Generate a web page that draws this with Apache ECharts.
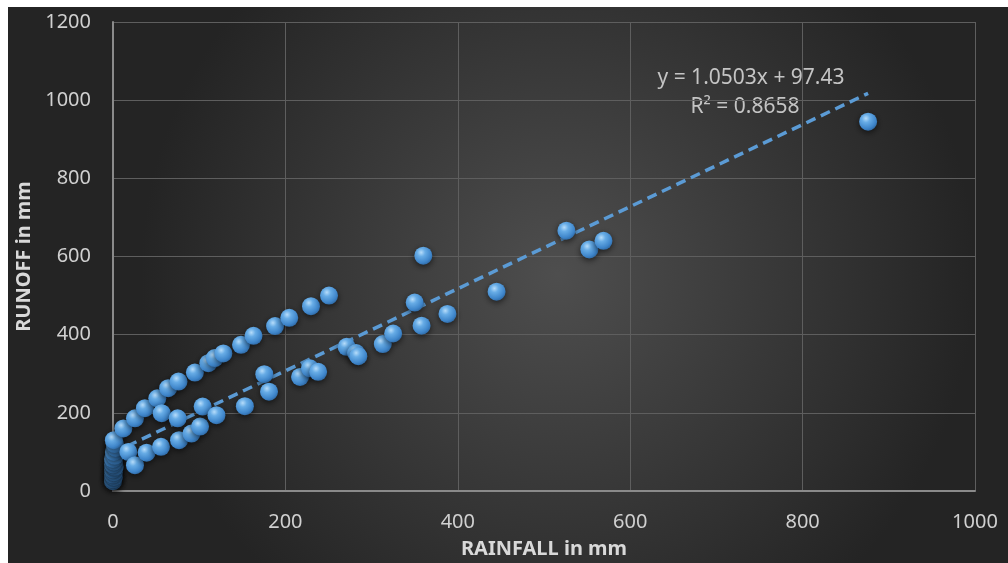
<!DOCTYPE html>
<html><head><meta charset="utf-8">
<script src="https://cdn.jsdelivr.net/npm/echarts@6/dist/echarts.min.js"></script>
<style>
html,body{margin:0;padding:0;background:#fff;width:1008px;height:563px;overflow:hidden}
#c{position:absolute;left:8px;top:7px;width:1000px;height:556px}
</style></head>
<body><div id="c"></div>
<script>
// Rainfall (x, mm) and runoff (y, mm)
const rainfall = [0,0,1,0,1,0,2,0,1,0,2,1,3,2,1,
  12,25.5,37,51.4,56.5,64,76,95,110.6,118,128,148.5,163,188,204.5,229.7,250.6,
  17.8,25.5,39,55.7,76.6,75,91,101,104,120,153,175.5,181,217,228.5,238,271,282,284.6,313,325,350,358,360,388,445,526,552.6,569,876];
const runoff = [25,30,36,42,48,55,62,68,75,82,90,100,110,120,130,
  160,186,212,237,199,263,280,303,327,340,352,374,397,422,443,473,500,
  100,66,98,113,130,186,147,165,216,194,217,299,254,292,314,305,369,353,345,376,403,482,423,602,453,510,666,618,640,945];
const slope = 1.0503, intercept = 97.43, rSquared = 0.8658;

const pts = rainfall.map((x,i)=>[x,runoff[i]]);
const xmin = Math.min(...rainfall), xmax = Math.max(...rainfall);
const trend = [[xmin, slope*xmin+intercept],[xmax, slope*xmax+intercept]];

const chart = echarts.init(document.getElementById('c'));
const labelFont = '"Noto Sans", "Open Sans", sans-serif';
chart.setOption({
  animation:false,
  backgroundColor:{type:'radial',x:0.55,y:0.48,r:0.75,colorStops:[{offset:0,color:'#4e4e4e'},{offset:1,color:'#242424'}]},
  grid:{left:105,right:33,top:15,bottom:72,containLabel:false,outerBoundsMode:'none'},
  xAxis:{type:'value',min:0,max:1000,interval:200,
    name:'RAINFALL in mm',nameLocation:'middle',nameGap:48,
    nameTextStyle:{color:'#d9d9d9',fontSize:20,fontWeight:'bold',fontFamily:labelFont},
    axisLine:{show:true,lineStyle:{color:'#8a8a8a',width:2}},
    axisTick:{show:false},
    axisLabel:{color:'#d0d0d0',fontSize:20,fontFamily:labelFont,margin:21,formatter:v=>String(v)},
    splitLine:{show:true,lineStyle:{color:'#5e5e5e',width:1}}},
  yAxis:{type:'value',min:0,max:1200,interval:200,
    name:'RUNOFF in mm',nameLocation:'middle',nameGap:68,nameRotate:90,
    nameTextStyle:{color:'#d9d9d9',fontSize:20,fontWeight:'bold',fontFamily:labelFont},
    axisLine:{show:true,lineStyle:{color:'#8a8a8a',width:2}},
    axisTick:{show:false},
    axisLabel:{color:'#d0d0d0',fontSize:20,fontFamily:labelFont,margin:22,formatter:v=>String(v)},
    splitLine:{show:true,lineStyle:{color:'#5e5e5e',width:1}}},
  graphic:[
    {type:'text',x:743,y:71,style:{text:'y = '+slope+'x + '+intercept,fill:'#c4c4c4',font:'21px '+labelFont,align:'center',verticalAlign:'middle'}},
    {type:'text',x:737,y:100,style:{text:'R² = '+rSquared,fill:'#c4c4c4',font:'21px '+labelFont,align:'center',verticalAlign:'middle'}}
  ],
  series:[
    {type:'scatter',data:pts,symbolSize:18,
      itemStyle:{
        color:{type:'radial',x:0.38,y:0.32,r:0.75,colorStops:[
          {offset:0,color:'#b6dcfa'},{offset:0.3,color:'#67ace6'},{offset:0.75,color:'#3e85ca'},{offset:1,color:'#2c639b'}]},
        shadowBlur:6,shadowColor:'rgba(0,0,0,0.6)',shadowOffsetY:2,opacity:1}},
    {type:'line',data:trend,symbol:'none',silent:true,z:1,
      lineStyle:{color:'#5b9bd5',width:3.5,type:[10,6]}}
  ]
});
</script></body></html>
